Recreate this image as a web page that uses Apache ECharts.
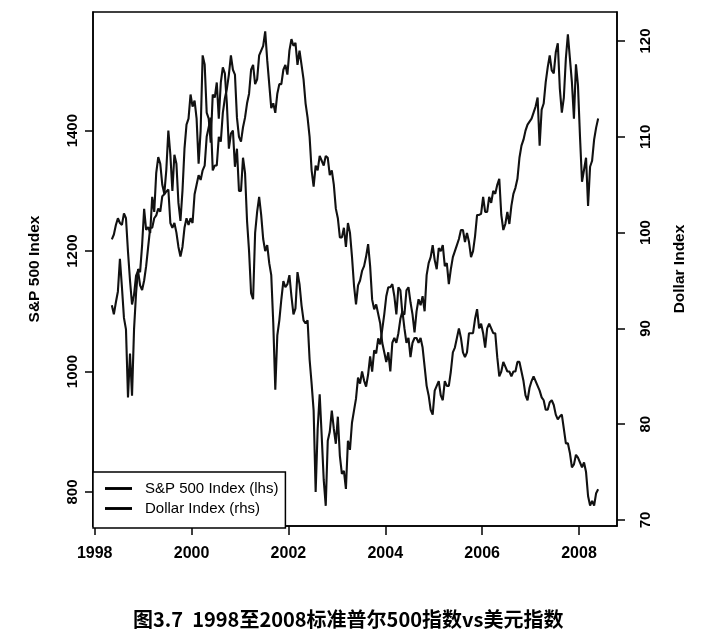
<!DOCTYPE html>
<html>
<head>
<meta charset="utf-8">
<title>S&P 500 vs Dollar Index</title>
<script src="https://cdn.jsdelivr.net/npm/echarts@6/dist/echarts.min.js"></script>
<style>
  html, body { margin: 0; padding: 0; background: #fff; }
  #chart { width: 725px; height: 634px; }
</style>
</head>
<body>
<div id="chart"></div>
<script>
// half-monthly readings, May 1998 .. May 2008 (two per month)
var firstYear = 1998, firstMonth = 5;

var spx = [
  // 1998 May-Dec
  1110, 1095, 1115, 1133, 1187, 1140, 1089, 1070, 957, 1030, 960, 1070, 1130, 1170, 1165, 1210,
  // 1999
  1270, 1235, 1240, 1230, 1290, 1265, 1330, 1356, 1345, 1310, 1295, 1335, 1400, 1360, 1300, 1360, 1345, 1280, 1250, 1300, 1370, 1410, 1420, 1460,
  // 2000
  1440, 1450, 1420, 1345, 1400, 1525, 1510, 1430, 1420, 1380, 1460, 1455, 1480, 1420, 1480, 1505, 1495, 1445, 1370, 1395, 1400, 1340, 1370, 1300,
  // 2001
  1300, 1355, 1330, 1250, 1200, 1130, 1120, 1230, 1265, 1290, 1260, 1220, 1200, 1210, 1180, 1160, 1080, 970, 1060, 1085, 1120, 1150, 1140, 1145,
  // 2002
  1160, 1125, 1095, 1105, 1165, 1145, 1110, 1085, 1080, 1085, 1020, 980, 935, 800, 905, 962, 893, 820, 777, 885, 900, 935, 905, 880,
  // 2003
  925, 860, 830, 835, 805, 885, 870, 915, 935, 955, 990, 980, 1000, 985, 975, 995, 1025, 1000, 1035, 1030, 1055, 1045, 1070, 1095,
  // 2004
  1125, 1140, 1140, 1145, 1125, 1095, 1140, 1135, 1095, 1095, 1135, 1140, 1115, 1095, 1065, 1100, 1120, 1110, 1125, 1100, 1160, 1180, 1190, 1210,
  // 2005
  1185, 1170, 1205, 1200, 1210, 1175, 1180, 1145, 1170, 1190, 1200, 1210, 1220, 1235, 1235, 1215, 1230, 1215, 1190, 1200, 1225, 1260, 1260, 1262,
  // 2006
  1290, 1265, 1265, 1290, 1280, 1300, 1295, 1310, 1320, 1260, 1235, 1245, 1265, 1245, 1275, 1295, 1305, 1320, 1355, 1375, 1385, 1400, 1410, 1415,
  // 2007
  1420, 1430, 1440, 1455, 1375, 1435, 1445, 1480, 1505, 1525, 1500, 1495, 1530, 1545, 1470, 1430, 1455, 1520, 1560, 1520, 1480, 1420, 1510, 1475,
  // 2008 Jan-May
  1390, 1315, 1335, 1355, 1275, 1340, 1350, 1385, 1405, 1420
];

var dxy = [
  // 1998 May-Dec
  99.3, 99.8, 100.8, 101.5, 101.0, 100.8, 102.0, 101.5, 98.0, 95.0, 92.5, 93.5, 95.5, 96.0, 94.5, 94.0,
  // 1999
  95.0, 96.5, 98.5, 100.5, 100.5, 101.5, 101.8, 102.5, 102.2, 103.8, 104.0, 104.3, 104.5, 101.0, 100.5, 101.0, 100.0, 98.5, 97.5, 98.5, 100.5, 101.5, 100.8, 101.5,
  // 2000
  101.0, 104.0, 105.0, 106.0, 105.5, 106.5, 107.0, 110.0, 111.0, 112.0, 106.5, 107.0, 107.0, 110.0, 109.5, 112.5, 114.0, 115.0, 116.5, 118.5, 117.0, 116.5, 112.0, 110.0,
  // 2001
  109.5, 111.0, 112.0, 113.5, 114.5, 117.0, 117.5, 115.5, 116.0, 118.5, 119.0, 119.5, 121.0, 118.0, 115.5, 113.0, 113.5, 112.5, 114.5, 115.5, 115.5, 117.0, 117.5, 116.5,
  // 2002
  119.0, 120.2, 119.5, 119.8, 117.5, 119.0, 117.5, 116.0, 113.5, 112.0, 110.0, 106.5, 104.8, 107.0, 106.5, 108.0, 107.5, 107.0, 108.0, 107.8, 106.0, 106.5, 105.0, 102.5,
  // 2003
  101.5, 99.5, 99.5, 100.5, 98.5, 101.0, 100.0, 97.5, 94.5, 92.5, 94.5, 95.0, 96.0, 96.5, 97.5, 98.8, 96.5, 93.0, 92.0, 92.5, 91.5, 90.5, 88.5, 87.5,
  // 2004
  86.5, 87.5, 85.5, 88.5, 89.0, 88.5, 89.5, 91.0, 91.8, 90.0, 88.5, 89.0, 87.0, 88.5, 89.0, 89.0, 88.5, 89.0, 88.0, 86.0, 84.0, 83.0, 81.5, 81.0,
  // 2005
  83.5, 84.0, 84.5, 83.0, 82.5, 84.5, 84.0, 84.0, 85.5, 87.5, 88.0, 89.0, 90.0, 89.0, 87.5, 87.0, 87.5, 89.5, 89.5, 89.5, 91.0, 92.0, 90.0, 90.5,
  // 2006
  89.5, 88.0, 90.0, 90.5, 90.0, 89.5, 89.5, 87.0, 85.0, 85.5, 86.5, 86.0, 85.5, 85.5, 85.0, 85.5, 85.5, 86.5, 86.5, 85.5, 84.5, 83.0, 82.5, 83.8,
  // 2007
  84.5, 85.0, 84.5, 84.0, 83.5, 82.8, 82.5, 81.5, 81.5, 82.3, 82.5, 82.0, 81.0, 80.5, 80.8, 81.0, 79.5, 78.0, 78.0, 77.0, 75.5, 75.8, 76.8, 76.5,
  // 2008 Jan-May
  76.0, 75.5, 76.0, 75.0, 72.5, 71.5, 72.0, 71.5, 72.8, 73.2
];

var yearTicks = [1998, 2000, 2002, 2004, 2006, 2008];
var spxTicks = [800, 1000, 1200, 1400];
var dxyTicks = [70, 80, 90, 100, 110, 120];

var seriesNames = ['S&P 500 Index (lhs)', 'Dollar Index (rhs)'];
var chartTitle = '图3.7  1998至2008标准普尔500指数vs美元指数';

// date of the i-th reading as a decimal year (8th and 23rd of each month)
function readingDate(i) {
  var m = firstMonth - 1 + Math.floor(i / 2);
  return firstYear + (m + (i % 2 ? 0.75 : 0.25)) / 12;
}

function pairs(values) {
  return values.map(function (v, i) {
    return [readingDate(i), v];
  });
}

var font = 'Liberation Sans, Arial, sans-serif';
var plain = function (v) { return String(v); };
// flat bar used as the legend key, like R's lty = 1 sample
var legendKey = 'path://M0,0 L30,0 L30,3.2 L0,3.2 Z';

var chart = echarts.init(document.getElementById('chart'), null, { renderer: 'canvas' });

var axisLine = { show: true, lineStyle: { color: '#000', width: 1.5 } };

chart.setOption({
  animation: false,
  backgroundColor: '#fff',
  title: {
    text: chartTitle,
    left: 128,
    top: 604,
    textStyle: {
      fontFamily: 'Noto Sans CJK SC',
      fontSize: 20,
      fontWeight: 'bold',
      color: '#000'
    }
  },
  grid: {
    left: 93,
    right: 108,
    top: 12,
    bottom: 108,
    show: true,
    borderColor: '#000',
    borderWidth: 1.5
  },
  legend: {
    left: 93,
    top: 472,
    orient: 'vertical',
    data: seriesNames.map(function (n) { return { name: n, icon: legendKey }; }),
    itemWidth: 27,
    itemHeight: 14,
    itemGap: 5,
    symbolKeepAspect: true,
    padding: [9, 7, 12, 12],
    borderColor: '#000',
    borderWidth: 1.5,
    backgroundColor: '#fff',
    itemStyle: { color: '#000', borderWidth: 0 },
    lineStyle: { width: 0 },
    textStyle: {
      fontFamily: font,
      fontSize: 15,
      color: '#000',
      padding: [0, 0, 0, 8]
    }
  },
  xAxis: {
    type: 'value',
    min: 1997.965,
    max: 2008.785,
    axisLine: axisLine,
    axisTick: { show: true, length: 9, customValues: yearTicks, lineStyle: { color: '#000', width: 1.5 } },
    axisLabel: {
      customValues: yearTicks,
      formatter: plain,
      margin: 20,
      fontFamily: font,
      fontSize: 16,
      fontWeight: 'bold',
      color: '#000'
    },
    splitLine: { show: false }
  },
  yAxis: [{
    type: 'value',
    position: 'left',
    min: 743.5,
    max: 1597,
    name: 'S&P 500 Index',
    nameLocation: 'middle',
    nameGap: 50,
    nameTextStyle: { fontFamily: font, fontSize: 15.5, fontWeight: 'bold', color: '#000' },
    axisLine: axisLine,
    axisTick: { show: true, length: 8, customValues: spxTicks, lineStyle: { color: '#000', width: 1.5 } },
    axisLabel: {
      customValues: spxTicks,
      formatter: plain,
      rotate: 90,
      margin: 13,
      fontFamily: font,
      fontSize: 15,
      fontWeight: 'bold',
      color: '#000'
    },
    splitLine: { show: false }
  }, {
    type: 'value',
    position: 'right',
    min: 69.37,
    max: 123.03,
    name: 'Dollar Index',
    nameLocation: 'middle',
    nameGap: 55,
    nameTextStyle: { fontFamily: font, fontSize: 15.5, fontWeight: 'bold', color: '#000' },
    axisLine: axisLine,
    axisTick: { show: true, length: 8, customValues: dxyTicks, lineStyle: { color: '#000', width: 1.5 } },
    axisLabel: {
      customValues: dxyTicks,
      formatter: plain,
      rotate: 90,
      margin: 21,
      fontFamily: font,
      fontSize: 15,
      fontWeight: 'bold',
      color: '#000'
    },
    splitLine: { show: false }
  }],
  series: [{
    name: seriesNames[0],
    type: 'line',
    yAxisIndex: 0,
    symbol: 'none',
    lineStyle: { color: '#111', width: 2.1 },
    itemStyle: { color: '#111' },
    data: pairs(spx)
  }, {
    name: seriesNames[1],
    type: 'line',
    yAxisIndex: 1,
    symbol: 'none',
    lineStyle: { color: '#111', width: 2.1 },
    itemStyle: { color: '#111' },
    data: pairs(dxy)
  }]
});
</script>
</body>
</html>
